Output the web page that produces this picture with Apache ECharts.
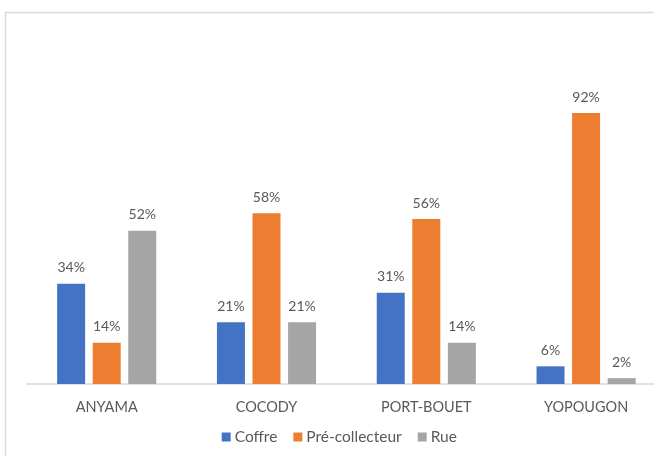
<!DOCTYPE html>
<html><head><meta charset="utf-8">
<script src="https://cdn.jsdelivr.net/npm/echarts@6/dist/echarts.min.js"></script>
<style>html,body{margin:0;padding:0;background:#fff}#c{width:654px;height:456px}</style>
</head><body><div id="c"></div>
<script>
const categories = ['ANYAMA', 'COCODY', 'PORT-BOUET', 'YOPOUGON'];
const coffre = [34, 21, 31, 6];
const preCollecteur = [14, 58, 56, 92];
const rue = [52, 21, 14, 2];
const seriesNames = ['Coffre', 'Pré-collecteur', 'Rue'];

const font = 'Lato, "Open Sans", sans-serif';
const chart = echarts.init(document.getElementById('c'), null, {renderer: 'canvas'});
const lbl = {show: true, position: 'top', distance: 9, formatter: '{c}%', color: '#595959', fontSize: 14, fontFamily: font};
chart.setOption({
  animation: false,
  backgroundColor: '#fff',
  graphic: [{type: 'rect', shape: {x: 5.5, y: 12.5, width: 700, height: 500}, style: {fill: 'none', stroke: '#d9d9d9', lineWidth: 1.5}, silent: true}],
  color: ['#4472C4', '#ED7D31', '#A5A5A5'],
  grid: {left: 26.8, width: 639.2, top: 89.5, bottom: 72, containLabel: false, outerBoundsMode: 'none'},
  legend: {
    bottom: 6, left: 216.7, itemWidth: 9, itemHeight: 9, itemGap: 16, icon: 'rect',
    textStyle: {color: '#595959', fontSize: 15.5, fontFamily: font, padding: [0, 0, 0, -1]},
    data: seriesNames
  },
  xAxis: {
    type: 'category', data: categories,
    axisLine: {lineStyle: {color: '#d9d9d9', width: 1.5}}, axisTick: {show: false},
    axisLabel: {color: '#595959', fontSize: 14.5, fontFamily: font, margin: 16}
  },
  yAxis: {type: 'value', min: 0, max: 100, show: false, splitLine: {show: false}},
  series: [
    {name: seriesNames[0], type: 'bar', data: coffre, barWidth: 28, barGap: '27%', label: lbl},
    {name: seriesNames[1], type: 'bar', data: preCollecteur, barWidth: 28, barGap: '27%', label: lbl},
    {name: seriesNames[2], type: 'bar', data: rue, barWidth: 28, barGap: '27%', label: lbl}
  ]
});
</script></body></html>
